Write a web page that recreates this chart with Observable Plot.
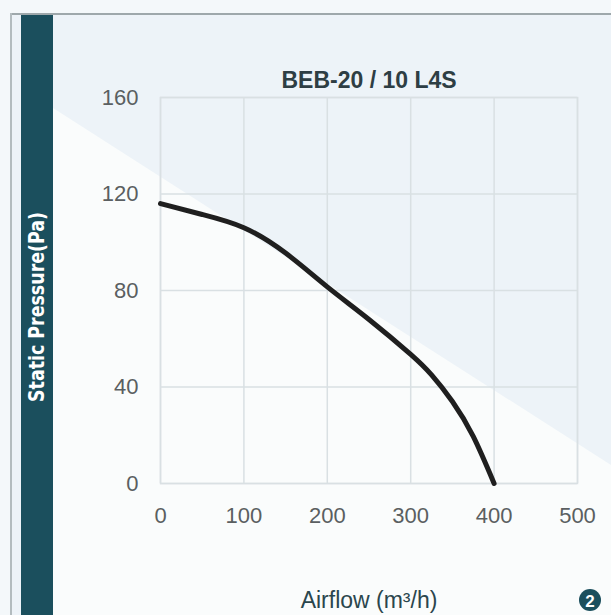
<!DOCTYPE html>
<html>
<head>
<meta charset="utf-8">
<script src="https://cdn.jsdelivr.net/npm/d3@7"></script>
<script src="https://cdn.jsdelivr.net/npm/@observablehq/plot@0.6"></script>
<style>
  html, body { margin: 0; padding: 0; background: #f4f8fa; }
  #wrap { position: relative; width: 611px; height: 615px; overflow: hidden; background: #f4f8fa; font-family: "Liberation Sans", Arial, sans-serif; }
  #panel { position: absolute; left: 11px; top: 15px; width: 600px; height: 600px; background: #edf3f8; }
  #white { position: absolute; left: 0; top: 0; width: 611px; height: 615px; background: #fafcfc;
           clip-path: polygon(53px 108px, 611px 465px, 611px 615px, 53px 615px); }
  #topline { position: absolute; left: 10px; top: 13px; width: 601px; height: 2px; background: #9ea8ab; }
  #leftline { position: absolute; left: 10px; top: 13px; width: 2px; height: 602px; background: #b3bcbf; }
  #bar { position: absolute; left: 21px; top: 15px; width: 32px; height: 600px; background: #1b4f5d; }
  #chart { position: absolute; left: 0; top: 0; }
  #overlay { position: absolute; left: 0; top: 0; pointer-events: none; }
</style>
</head>
<body>
<div id="wrap">
  <div id="panel"></div>
  <div id="white"></div>
  <div id="topline"></div>
  <div id="leftline"></div>
  <div id="bar"></div>
  <div id="chart"></div>
  <svg id="overlay" width="611" height="615">
    <text x="37" y="307" transform="rotate(-90 37 307)" text-anchor="middle" dominant-baseline="central"
          fill="#ffffff" font-weight="bold" font-size="21" textLength="190" lengthAdjust="spacingAndGlyphs"
          font-family="'Liberation Sans Narrow','DejaVu Sans Condensed','Liberation Sans',sans-serif">Static Pressure(Pa)</text>
    <circle cx="590" cy="600" r="11" fill="#1b4f5d"></circle>
    <text x="590" y="601" text-anchor="middle" dominant-baseline="central" fill="#ffffff" font-weight="bold" font-size="17" font-family="'Liberation Sans',Arial,sans-serif">2</text>
  </svg>
</div>
<script>
// Data
const airflow  = [0, 50, 100, 150, 200, 250, 300, 325, 350, 375, 400];
const pressure = [116, 111.5, 106, 95.5, 81.5, 68, 53.5, 45, 34, 19.5, 0];
const xTicks = [0, 100, 200, 300, 400, 500];
const yTicks = [0, 40, 80, 120, 160];
const title = "BEB-20 / 10 L4S";
const xLabel = "Airflow (m³/h)";

const curve = airflow.map((a, i) => ({airflow: a, pressure: pressure[i]}));

const chart = Plot.plot({
  width: 611,
  height: 615,
  marginLeft: 160,
  marginRight: 34,
  marginTop: 97,
  marginBottom: 132,
  style: {background: "transparent", fontFamily: "'Liberation Sans', Arial, sans-serif", overflow: "visible"},
  x: {domain: [0, 500], ticks: xTicks},
  y: {domain: [0, 160], ticks: yTicks},
  marks: [
    Plot.gridX(xTicks, {stroke: "#d9e0e3", strokeOpacity: 1, strokeWidth: 1.5}),
    Plot.gridY(yTicks, {stroke: "#d9e0e3", strokeOpacity: 1, strokeWidth: 1.5}),
    Plot.frame({stroke: "#d9e0e3", strokeWidth: 1.5}),
    Plot.axisX(xTicks, {tickSize: 0, tickPadding: 24, fontSize: 22, fill: "#5a5f61", label: null}),
    Plot.axisY(yTicks, {tickSize: 0, tickPadding: 22, fontSize: 22, fill: "#5a5f61", label: null}),
    Plot.line(curve, {x: "airflow", y: "pressure", stroke: "#1f1f1f", strokeWidth: 5, curve: "natural"}),
    Plot.text([title], {text: d => d, frameAnchor: "top", dy: -17, lineAnchor: "middle",
      fontSize: 23, fontWeight: "bold", fill: "#2e3e44"}),
    Plot.text([xLabel], {text: d => d, frameAnchor: "bottom", dy: 117, lineAnchor: "middle",
      fontSize: 23, fill: "#2a464d"})
  ]
});
document.getElementById("chart").appendChild(chart);
</script>
</body>
</html>
